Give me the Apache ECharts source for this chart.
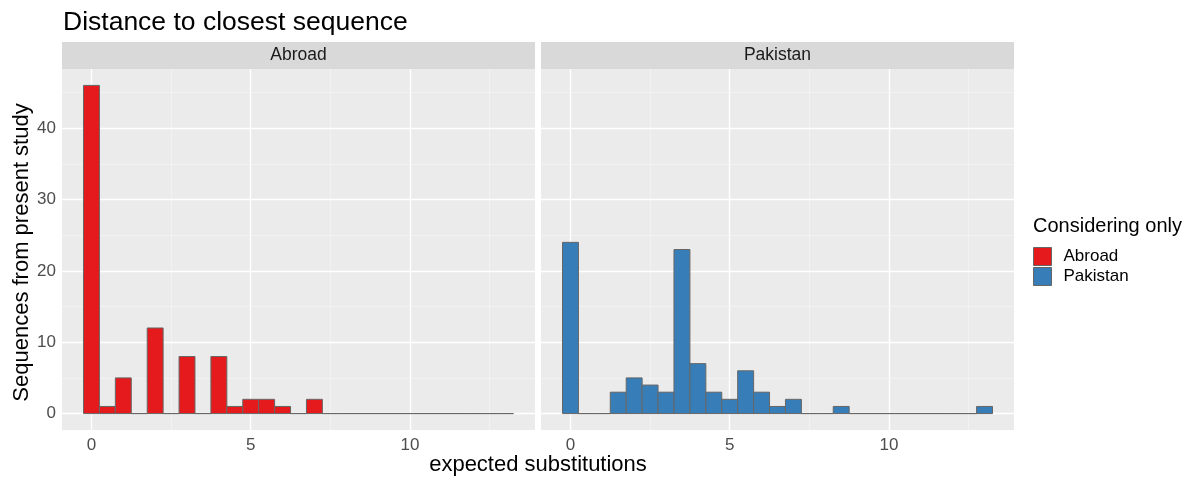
<!DOCTYPE html>
<html>
<head>
<meta charset="utf-8">
<script src="https://cdn.jsdelivr.net/npm/echarts@6/dist/echarts.min.js"></script>
<style>
  html, body { margin: 0; padding: 0; background: #ffffff; }
  #chart { width: 1204px; height: 480px; }
</style>
</head>
<body>
<div id="chart"></div>
<script>
// ---- data ----
const binCenters = [0, 0.5, 1, 1.5, 2, 2.5, 3, 3.5, 4, 4.5, 5, 5.5, 6, 6.5, 7, 7.5, 8, 8.5, 9, 9.5, 10, 10.5, 11, 11.5, 12, 12.5, 13];
const abroadCounts = [46, 1, 5, 0, 12, 0, 8, 0, 8, 1, 2, 2, 1, 0, 2, 0, 0, 0, 0, 0, 0, 0, 0, 0, 0, 0, 0];
const pakistanCounts = [24, 0, 0, 3, 5, 4, 3, 23, 7, 3, 2, 6, 3, 1, 2, 0, 0, 1, 0, 0, 0, 0, 0, 0, 0, 0, 1];
const BIN_WIDTH = 0.5;
const panelNames = ['Abroad', 'Pakistan'];
const xTicks = [0, 5, 10];
const xMinor = [2.5, 7.5, 12.5];
const yTicks = [0, 10, 20, 30, 40];
const yMinor = [5, 15, 25, 35, 45];
const titleText = 'Distance to closest sequence';
const xTitle = 'expected substitutions';
const yTitle = 'Sequences from present study';
const legendTitle = 'Considering only';

// ---- style / layout ----
const FONT = "'Liberation Sans', Arial, Helvetica, sans-serif";
const colors = ['#E41A1C', '#377EB8'];
const X_MIN = -0.925, X_MAX = 13.925;
const Y_MIN = -2.3, Y_MAX = 48.3;
const PANEL_TOP = 69, PANEL_H = 361, PANEL_W = 473;
const panelLefts = [62, 541];
const STRIP_H = 27;

const chart = echarts.init(document.getElementById('chart'), null, { renderer: 'canvas' });

function gridLines() {
  const major = { color: '#FFFFFF', width: 1.4, type: 'solid' };
  const minor = { color: '#F4F4F4', width: 0.8, type: 'solid' };
  const data = [];
  xTicks.forEach(v => data.push({ xAxis: v, lineStyle: major }));
  xMinor.forEach(v => data.push({ xAxis: v, lineStyle: minor }));
  yTicks.forEach(v => data.push({ yAxis: v, lineStyle: major }));
  yMinor.forEach(v => data.push({ yAxis: v, lineStyle: minor }));
  return {
    silent: true, symbol: ['none', 'none'], z: 1,
    label: { show: false }, emphasis: { disabled: true },
    animation: false,
    data: data
  };
}

function makeRender(color) {
  return function (params, api) {
    const c = api.value(0), v = api.value(1);
    const p0 = api.coord([c - BIN_WIDTH / 2, v]);
    const p1 = api.coord([c + BIN_WIDTH / 2, 0]);
    return {
      type: 'rect',
      shape: { x: p0[0], y: p0[1], width: p1[0] - p0[0], height: p1[1] - p0[1] },
      style: { fill: color, stroke: '#666666', lineWidth: 1 }
    };
  };
}

const grids = panelLefts.map(l => ({
  left: l, top: PANEL_TOP, width: PANEL_W, height: PANEL_H,
  show: true, backgroundColor: '#EBEBEB', borderWidth: 0, containLabel: false
}));

const xAxes = [0, 1].map(i => ({
  type: 'value', gridIndex: i, min: X_MIN, max: X_MAX,
  axisLine: { show: false },
  splitLine: { show: false },
  axisTick: { show: true, customValues: xTicks, length: 4, lineStyle: { color: '#333333', width: 1 } },
  axisLabel: { show: true, customValues: xTicks, color: '#4D4D4D', fontSize: 17, fontFamily: FONT, margin: 7 }
}));

const yAxes = [0, 1].map(i => ({
  type: 'value', gridIndex: i, min: Y_MIN, max: Y_MAX,
  axisLine: { show: false },
  splitLine: { show: false },
  axisTick: { show: i === 0, customValues: yTicks, length: 4, lineStyle: { color: '#333333', width: 1 } },
  axisLabel: { show: i === 0, customValues: yTicks, color: '#4D4D4D', fontSize: 17, fontFamily: FONT, margin: 6 }
}));

const countsList = [abroadCounts, pakistanCounts];
const series = [0, 1].map(i => ({
  name: panelNames[i],
  type: 'custom',
  xAxisIndex: i, yAxisIndex: i,
  z: 3,
  animation: false,
  itemStyle: { color: colors[i], borderColor: '#666666', borderWidth: 1 },
  renderItem: makeRender(colors[i]),
  encode: { x: 0, y: 1 },
  data: binCenters.map((c, j) => [c, countsList[i][j]]),
  markLine: gridLines()
}));

const graphic = [];
panelLefts.forEach((l, i) => {
  graphic.push({
    type: 'rect', left: l, top: PANEL_TOP - STRIP_H, silent: true,
    shape: { width: PANEL_W, height: STRIP_H },
    style: { fill: '#D9D9D9' }
  });
  graphic.push({
    type: 'text', x: l + PANEL_W / 2, y: PANEL_TOP - STRIP_H / 2, silent: true,
    style: { text: panelNames[i], fill: '#1A1A1A', font: '17.5px ' + FONT, align: 'center', verticalAlign: 'middle' }
  });
});
graphic.push({
  type: 'text', x: (panelLefts[0] + panelLefts[1] + PANEL_W) / 2, y: 465, silent: true,
  style: { text: xTitle, fill: '#000000', font: '22px ' + FONT, align: 'center', verticalAlign: 'middle' }
});
graphic.push({
  type: 'text', x: 22, y: PANEL_TOP + PANEL_H / 2 + 3, rotation: Math.PI / 2, silent: true,
  style: { text: yTitle, fill: '#000000', font: '22px ' + FONT, align: 'center', verticalAlign: 'middle' }
});
graphic.push({
  type: 'text', x: 1033, y: 226, silent: true,
  style: { text: legendTitle, fill: '#000000', font: '20px ' + FONT, align: 'left', verticalAlign: 'middle' }
});

const option = {
  backgroundColor: '#FFFFFF',
  animation: false,
  title: {
    text: titleText, left: 58, top: 4,
    textStyle: { fontSize: 26.5, fontWeight: 'normal', color: '#000000', fontFamily: FONT }
  },
  legend: {
    data: panelNames, orient: 'vertical', left: 1033, top: 247, padding: 0,
    icon: 'rect', itemWidth: 18, itemHeight: 18, itemGap: 1,
    itemStyle: { borderColor: '#666666', borderWidth: 1 },
    textStyle: { fontSize: 17, color: '#000000', fontFamily: FONT, padding: [0, 0, 0, 7] },
    selectedMode: false
  },
  grid: grids,
  xAxis: xAxes,
  yAxis: yAxes,
  series: series,
  graphic: graphic
};
chart.setOption(option);
</script>
</body>
</html>
